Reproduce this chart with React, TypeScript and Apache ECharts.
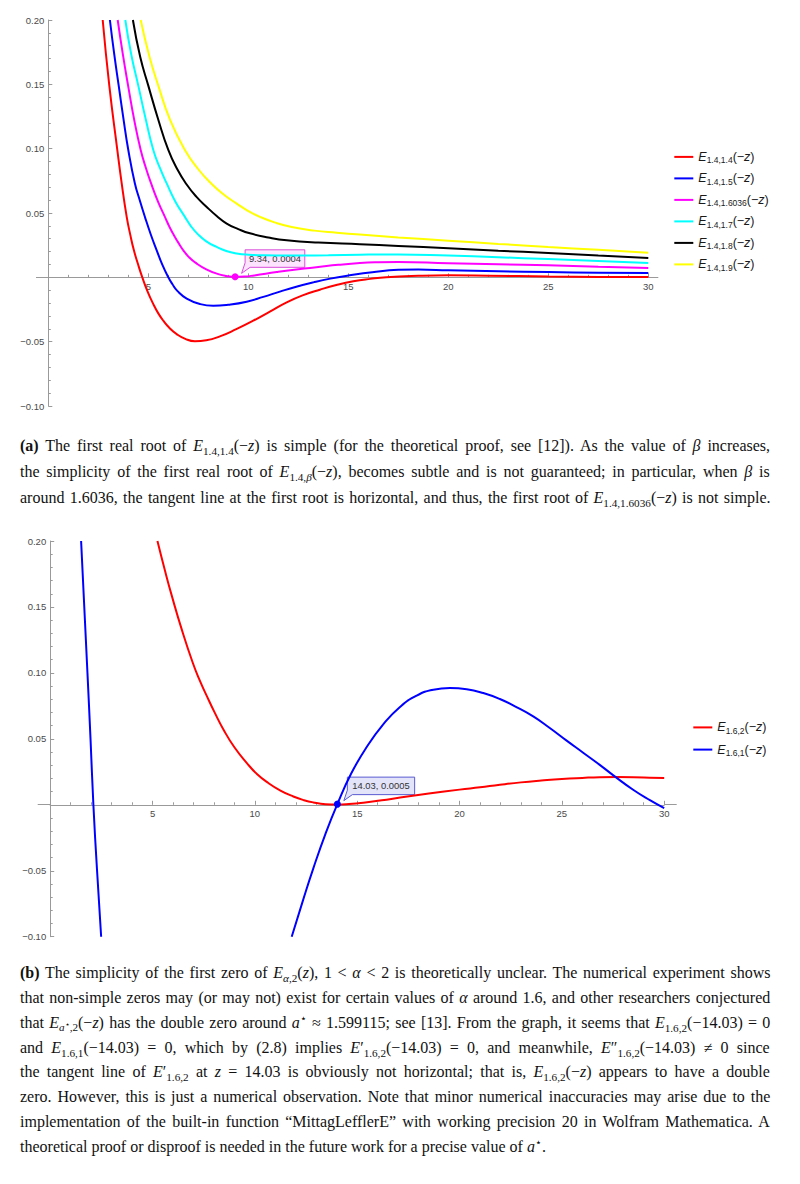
import React, { useEffect, useLayoutEffect, useRef } from "react";
import * as echarts from "echarts";

// ---------- Panel (a): E_{1.4,beta}(-z) ----------
const betaLabels = ["1.4", "1.5", "1.6036", "1.7", "1.8", "1.9"];
const colorsA = ["#ff0000", "#0000ff", "#ff00ff", "#00ffff", "#000000", "#ffff00"];

const redA = [
  [2.72, 0.2], [3.05, 0.149], [3.45, 0.099], [3.67, 0.073], [3.92, 0.047], [4.1, 0.033],
  [4.28, 0.021], [4.48, 0.0105], [4.7, 0], [4.95, -0.0105], [5.25, -0.0208], [5.5, -0.028],
  [5.75, -0.0337], [6.05, -0.0392], [6.42, -0.0441], [6.85, -0.0478], [7.33, -0.0496],
  [7.9, -0.0489], [8.58, -0.0459], [9.4, -0.0403], [10.25, -0.0337], [11.1, -0.0264],
  [11.92, -0.0194], [12.75, -0.0138], [13.58, -0.0096], [14.4, -0.006], [15.25, -0.0031],
  [16.1, -0.0012], [16.9, 0.0001], [18.5, 0.0012], [20, 0.0016], [22, 0.0013], [25, 0.0006],
  [27.5, 0.0003], [30, 0.0002],
];
const blueA = [
  [3.08, 0.2], [3.3, 0.173], [3.52, 0.149], [3.76, 0.123], [4.0, 0.099], [4.33, 0.073],
  [4.58, 0.0595], [4.83, 0.047], [5.12, 0.0335], [5.42, 0.021], [5.7, 0.0098], [6.0, 0],
  [6.2, -0.0052], [6.45, -0.0105], [6.92, -0.0165], [7.6, -0.0208], [8.25, -0.0221],
  [9.0, -0.0213], [9.92, -0.0189], [10.75, -0.0152], [11.58, -0.0111], [12.4, -0.0073],
  [13.25, -0.0039], [14.1, -0.001], [15.0, 0.0014], [16.2, 0.004], [17.5, 0.0058],
  [18.5, 0.006], [20, 0.0055], [22.5, 0.0047], [25, 0.0041], [27.5, 0.0036], [30, 0.0033],
];
const magentaA = [
  [3.47, 0.2], [3.72, 0.174], [3.99, 0.149], [4.3, 0.122], [4.62, 0.099], [4.88, 0.085],
  [5.14, 0.073], [5.48, 0.059], [5.83, 0.047], [6.08, 0.0385], [6.33, 0.0314], [6.55, 0.0257],
  [6.75, 0.021], [7.05, 0.0154], [7.42, 0.0107], [7.9, 0.0062], [8.42, 0.0029], [8.9, 0.0011],
  [9.34, 0.0004], [9.8, 0.0006], [10.3, 0.0015], [11.42, 0.0041], [12.5, 0.0063], [13.5, 0.008],
  [14.5, 0.0097], [15.58, 0.0111], [16.5, 0.0117], [17.5, 0.0119], [20, 0.0109], [22.5, 0.0101],
  [25, 0.0093], [27.5, 0.0082], [30, 0.0072],
];
const cyanA = [
  [3.85, 0.2], [4.15, 0.173], [4.5, 0.149], [4.87, 0.123], [5.25, 0.099], [5.58, 0.085],
  [5.92, 0.073], [6.35, 0.059], [6.83, 0.047], [7.12, 0.04], [7.45, 0.034], [7.9, 0.028],
  [8.42, 0.0236], [8.9, 0.0205], [9.42, 0.0186], [10.0, 0.0176], [10.8, 0.0171], [12, 0.0169],
  [14, 0.0172], [15.58, 0.0176], [17.5, 0.0178], [20, 0.0169], [22.5, 0.0156], [25, 0.0142],
  [27.5, 0.0127], [30, 0.0111],
];
const blackA = [
  [4.23, 0.2], [4.6, 0.171], [5.0, 0.149], [5.5, 0.1225], [6.0, 0.099], [6.45, 0.084],
  [6.9, 0.0725], [7.4, 0.0627], [7.92, 0.0547], [8.42, 0.0477], [8.92, 0.0418], [9.5, 0.0375],
  [10.08, 0.0342], [11, 0.031], [11.92, 0.0288], [13.5, 0.027], [15.58, 0.0257], [17.5, 0.0244],
  [20, 0.0226], [22.5, 0.0207], [25, 0.0189], [27.5, 0.0169], [30, 0.015],
];
const yellowA = [
  [4.62, 0.2], [5.05, 0.172], [5.5, 0.149], [6.1, 0.122], [6.83, 0.099], [7.5, 0.084],
  [8.17, 0.0725], [8.8, 0.064], [9.42, 0.0573], [10.0, 0.0515], [10.58, 0.047], [11.35, 0.0425],
  [12.17, 0.0391], [13.3, 0.0363], [14.42, 0.0347], [15.58, 0.0332], [17.5, 0.031], [20, 0.0285],
  [22.5, 0.026], [25, 0.0236], [27.5, 0.0214], [30, 0.0192],
];
const seriesA = [redA, blueA, magentaA, cyanA, blackA, yellowA];
const calloutA = [9.34, 0.0004];
const calloutAText = "9.34, 0.0004";

// ---------- Panel (b): E_{1.6,2}(-z), E_{1.6,1}(-z) ----------
const labelsB = ["1.6,2", "1.6,1"];
const colorsB = ["#ff0000", "#0000ff"];
const redB = [
  [5.24, 0.2], [5.6, 0.178], [5.95, 0.158], [6.43, 0.1328], [6.97, 0.1075], [7.3, 0.0945],
  [7.66, 0.0822], [8.05, 0.0695], [8.47, 0.0569], [9.0, 0.0436], [9.61, 0.0316], [10.1, 0.0234],
  [10.66, 0.0165], [11.25, 0.0108], [11.88, 0.0063], [12.4, 0.0035], [12.86, 0.0018],
  [13.45, 0.0005], [14.03, 0.0002], [14.6, 0.0006], [15.3, 0.0016], [16.2, 0.0034], [17.1, 0.0055],
  [18.5, 0.0085], [20, 0.0115], [21, 0.0133], [21.97, 0.0152], [23, 0.017], [24, 0.0184],
  [25, 0.0196], [26, 0.0204], [26.85, 0.0209], [27.7, 0.021], [28.5, 0.0209], [29.3, 0.0206],
  [30, 0.0203],
];
const blueB = [
  [1.51, 0.2], [1.665, 0.15], [1.82, 0.1], [1.97, 0.05], [2.11, 0], [2.29, -0.05], [2.49, -0.1],
  [7, null],
  [11.8, -0.1], [12.34, -0.073], [12.86, -0.048], [13.45, -0.022], [14.03, 0.0005], [14.7, 0.0235],
  [15.45, 0.0435], [16.3, 0.0615], [17.09, 0.0742], [17.9, 0.0828], [18.72, 0.0873], [19.53, 0.0885],
  [20.35, 0.0876], [21.16, 0.0847], [21.97, 0.0802], [22.78, 0.0741], [23.6, 0.067], [24.41, 0.0582],
  [25.2, 0.049], [26.04, 0.0395], [26.85, 0.0303], [27.5, 0.0225], [28.5, 0.0112], [29.3, 0.0035],
  [30, -0.0025],
];
const seriesB = [redB, blueB];
const calloutB = [14.03, 0.0005];
const calloutBText = "14.03, 0.0005";

// ---------- Axes ----------
const xMin = 0, xMax = 30, xInterval = 5;
const yMin = -0.1, yMax = 0.2, yInterval = 0.05;

const sans = "'Liberation Sans', Arial, sans-serif";
const axisColor = "#9a9a9a";
const labelColor = "#4a4a4a";

function xAxisFor(gridIndex: number) {
  return {
    type: "value", gridIndex, min: xMin, max: xMax, interval: xInterval, position: "bottom", offset: 0,
    axisLine: { show: true, onZero: false, lineStyle: { color: axisColor, width: 1 } },
    axisTick: { show: true, inside: true, length: 4, lineStyle: { color: axisColor } },
    minorTick: { show: true, splitNumber: 5, length: 2.5, lineStyle: { color: axisColor } },
    axisLabel: {
      show: true, margin: 4, color: labelColor, fontSize: 9.5, fontFamily: sans,
      formatter: (v: number) => (Math.abs(v) < 1e-9 ? "" : String(v)),
    },
    splitLine: { show: false },
    minorSplitLine: { show: false },
  };
}

function yAxisFor(gridIndex: number) {
  return {
    type: "value", gridIndex, min: yMin, max: yMax, interval: yInterval, position: "left", offset: 0,
    axisLine: { show: true, onZero: false, lineStyle: { color: axisColor, width: 1 } },
    axisTick: { show: true, inside: true, length: 4, lineStyle: { color: axisColor } },
    minorTick: { show: true, splitNumber: 5, length: 2.5, lineStyle: { color: axisColor } },
    axisLabel: {
      margin: 4, color: labelColor, fontSize: 9.5, fontFamily: sans,
      formatter: (v: number) => (Math.abs(v) < 1e-9 ? "" : (v < 0 ? "\u2212" : "") + Math.abs(v).toFixed(2)),
    },
    splitLine: { show: false },
    minorSplitLine: { show: false },
  };
}

const richLegend = {
  e: { fontFamily: sans, fontStyle: "italic", fontSize: 12.5, lineHeight: 16, color: "#1a1a1a" },
  s: { fontFamily: sans, fontSize: 8.5, lineHeight: 8, verticalAlign: "bottom", color: "#1a1a1a" },
  p: { fontFamily: sans, fontSize: 12.5, lineHeight: 16, color: "#1a1a1a" },
  z: { fontFamily: sans, fontStyle: "italic", fontSize: 12.5, lineHeight: 16, color: "#1a1a1a" },
};

const namesA = betaLabels.map((b) => `E_{1.4,${b}}(\u2212z)`);
const namesB = labelsB.map((b) => `E_{${b}}(\u2212z)`);
const legendRich: Record<string, string> = {};
betaLabels.forEach((b, i) => (legendRich[namesA[i]] = `{e|E}{s|1.4,${b}}{p|(\u2212}{z|z}{p|)}`));
labelsB.forEach((b, i) => (legendRich[namesB[i]] = `{e|E}{s|${b}}{p|(\u2212}{z|z}{p|)}`));

function buildOption() {
  const sA = seriesA.map((d, i) => ({
    type: "line", name: namesA[i], xAxisIndex: 0, yAxisIndex: 0, data: d,
    smooth: true, symbol: "none", showSymbol: false, clip: true, silent: true,
    color: colorsA[i], itemStyle: { color: colorsA[i] },
    lineStyle: { width: 2, color: colorsA[i] },
    markPoint: i === 2 ? {
      symbol: "circle", symbolSize: 7, silent: true, label: { show: false },
      itemStyle: { color: colorsA[i] }, data: [{ coord: calloutA }],
    } : undefined,
  }));
  const sB = seriesB.map((d, i) => ({
    type: "line", name: namesB[i], xAxisIndex: 1, yAxisIndex: 1, data: d,
    smooth: true, symbol: "none", showSymbol: false, clip: true, silent: true, connectNulls: false,
    color: colorsB[i], itemStyle: { color: colorsB[i] },
    lineStyle: { width: 2, color: colorsB[i] },
    markPoint: i === 1 ? {
      symbol: "circle", symbolSize: 7, silent: true, label: { show: false },
      itemStyle: { color: colorsB[i] }, data: [{ coord: calloutB }],
    } : undefined,
  }));
  return {
    animation: false,
    backgroundColor: "transparent",
    grid: [
      { left: 48.3, top: 20, width: 600, height: 386, containLabel: false, outerBoundsMode: "none" },
      { left: 50.2, top: 541, width: 614, height: 395.7, containLabel: false, outerBoundsMode: "none" },
    ],
    xAxis: [xAxisFor(0), xAxisFor(1)],
    yAxis: [yAxisFor(0), yAxisFor(1)],
    legend: [
      {
        orient: "vertical", left: 669.3, top: 145.4, itemWidth: 19, itemHeight: 2, itemGap: 7.0,
        icon: "rect", selectedMode: false, data: namesA,
        formatter: (n: string) => legendRich[n],
        textStyle: { fontFamily: sans, fontSize: 12.5, color: "#1a1a1a", rich: richLegend },
      },
      {
        orient: "vertical", left: 688.3, top: 715.9, itemWidth: 19, itemHeight: 2, itemGap: 7.7,
        icon: "rect", selectedMode: false, data: namesB,
        formatter: (n: string) => legendRich[n],
        textStyle: { fontFamily: sans, fontSize: 12.5, color: "#1a1a1a", rich: richLegend },
      },
    ],
    series: [...sA, ...sB],
  };
}

function bubble(p: number[], text: string, w: number, fill: string, stroke: string) {
  const x0 = 10, top = -27, bot = -9.5;
  return {
    type: "group", x: p[0], y: p[1], z: 100, silent: true,
    children: [
      {
        type: "polygon",
        shape: { points: [[x0, top], [x0 + w, top], [x0 + w, bot], [x0 + 5, bot], [x0 - 3.5, -3.5], [x0, bot - 4.5]] },
        style: { fill, stroke, lineWidth: 1 },
      },
      {
        type: "text", x: x0 + w / 2, y: (top + bot) / 2,
        style: {
          text, fill: "#333333", fontFamily: sans, fontSize: 9.4,
          align: "center", verticalAlign: "middle", textAlign: "center", textVerticalAlign: "middle",
        },
      },
    ],
  };
}

// crisp 1px line position, same rule as the axis line
function crisp(p: number) {
  const d = Math.round(p * 2);
  return (d + 1) % 2 === 0 ? d / 2 : (d - 1) / 2;
}

// Mathematica draws the horizontal axis a little beyond the plotted range
function axisExtension(z0: number[], z30: number[], padL: number, padR: number) {
  const y = crisp(z0[1]);
  const style = { stroke: axisColor, lineWidth: 1 };
  return [
    { type: "line", silent: true, z: 1, shape: { x1: z0[0] - padL, y1: y, x2: z0[0], y2: y }, style },
    { type: "line", silent: true, z: 1, shape: { x1: z30[0], y1: y, x2: z30[0] + padR, y2: y }, style },
  ];
}

// ---------- Caption helpers ----------
const Sb = ({ children }: { children: React.ReactNode }) => (
  <span style={{ fontSize: "0.7em", verticalAlign: "-0.32em", lineHeight: 0 }}>{children}</span>
);
const Sp = ({ children }: { children: React.ReactNode }) => (
  <span style={{ fontSize: "0.7em", verticalAlign: "0.5em", lineHeight: 0 }}>{children}</span>
);
const E = ({ s, p }: { s: React.ReactNode; p?: string }) => (
  <>
    <i>E</i>
    {p ? <span>{p}</span> : null}
    <Sb>{s}</Sb>
  </>
);

const capA: React.ReactNode[] = [
  <><b>(a)</b> The first real root of <E s="1.4,1.4" />(−<i>z</i>) is simple (for the theoretical proof, see [12]). As the value of <i>β</i> increases,</>,
  <>the simplicity of the first real root of <E s={<>1.4,<i>β</i></>} />(−<i>z</i>), becomes subtle and is not guaranteed; in particular, when <i>β</i> is</>,
  <>around 1.6036, the tangent line at the first root is horizontal, and thus, the first root of <E s="1.4,1.6036" />(−<i>z</i>) is not simple.</>,
];
const capAJustify = [true, true, true];
const capATops = [446, 472, 498];

const capB: React.ReactNode[] = [
  <><b>(b)</b> The simplicity of the first zero of <E s={<><i>α</i>,2</>} />(<i>z</i>), 1 &lt; <i>α</i> &lt; 2 is theoretically unclear. The numerical experiment shows</>,
  <>that non-simple zeros may (or may not) exist for certain values of <i>α</i> around 1.6, and other researchers conjectured</>,
  <>that <E s={<><i>a</i><Sp>⋆</Sp>,2</>} />(−<i>z</i>) has the double zero around <i>a</i><Sp>⋆</Sp> ≈ 1.599115; see [13]. From the graph, it seems that <E s="1.6,2" />(−14.03) = 0</>,
  <>and <E s="1.6,1" />(−14.03) = 0, which by (2.8) implies <E p="′" s="1.6,2" />(−14.03) = 0, and meanwhile, <E p="″" s="1.6,2" />(−14.03) ≠ 0 since</>,
  <>the tangent line of <E p="′" s="1.6,2" /> at <i>z</i> = 14.03 is obviously not horizontal; that is, <E s="1.6,2" />(−<i>z</i>) appears to have a double</>,
  <>zero. However, this is just a numerical observation. Note that minor numerical inaccuracies may arise due to the</>,
  <>implementation of the built-in function “MittagLefflerE” with working precision 20 in Wolfram Mathematica. A</>,
  <>theoretical proof or disproof is needed in the future work for a precise value of <i>a</i><Sp>⋆</Sp>.</>,
];
const capBJustify = [true, true, true, true, true, true, true, false];
const capBTops = [973, 997.9, 1022.7, 1047.6, 1072.4, 1097.3, 1122.2, 1147];

const TEXT_LEFT = 20;
const TEXT_WIDTH = 750;

function fitLines(els: (HTMLSpanElement | null)[], justify: boolean[]) {
  els.forEach((e) => {
    if (e) { e.style.transform = "none"; e.style.wordSpacing = "0px"; }
  });
  const ws = els.map((e) => (e ? e.offsetWidth : 0));
  let s = 1;
  els.forEach((e, i) => { if (e && justify[i] && ws[i] > 0) s = Math.min(s, TEXT_WIDTH / ws[i]); });
  els.forEach((e, i) => {
    if (!e) return;
    e.style.transformOrigin = "0 0";
    e.style.transform = `scaleX(${s})`;
    if (justify[i]) {
      const n = ((e.textContent || "").match(/ /g) || []).length;
      const extra = TEXT_WIDTH / s - ws[i];
      if (n > 0) e.style.wordSpacing = `${extra / n}px`;
    }
  });
}

export default function App() {
  const chartRef = useRef<HTMLDivElement>(null);
  const linesA = useRef<(HTMLSpanElement | null)[]>([]);
  const linesB = useRef<(HTMLSpanElement | null)[]>([]);

  useEffect(() => {
    const chart = echarts.init(chartRef.current as HTMLDivElement, null, { renderer: "svg" });
    chart.setOption(buildOption() as any);
    const px = (f: any, v: number) => chart.convertToPixel(f, v) as unknown as number;
    // move the horizontal axes up so they sit on y = 0 (axes cross at origin)
    const offXA = px({ yAxisIndex: 0 }, 0) - px({ yAxisIndex: 0 }, yMin);
    const offXB = px({ yAxisIndex: 1 }, 0) - px({ yAxisIndex: 1 }, yMin);
    const pa = chart.convertToPixel({ seriesIndex: 2 } as any, calloutA) as number[];
    const pb = chart.convertToPixel({ seriesIndex: 7 } as any, calloutB) as number[];
    const a0 = chart.convertToPixel({ seriesIndex: 0 } as any, [xMin, 0]) as number[];
    const a30 = chart.convertToPixel({ seriesIndex: 0 } as any, [xMax, 0]) as number[];
    const b0 = chart.convertToPixel({ seriesIndex: 6 } as any, [xMin, 0]) as number[];
    const b30 = chart.convertToPixel({ seriesIndex: 6 } as any, [xMax, 0]) as number[];
    chart.setOption({
      xAxis: [{ offset: offXA }, { offset: offXB }],
      graphic: [
        ...axisExtension(a0, a30, 12.3, 10),
        ...axisExtension(b0, b30, 12.5, 12.5),
        bubble(pa, calloutAText, 59.7, "#fde3fd", "#d94fd9"),
        bubble(pb, calloutBText, 67.3, "#e3e3fa", "#5a5ad2"),
      ],
    } as any);
    return () => chart.dispose();
  }, []);

  useLayoutEffect(() => {
    fitLines(linesA.current, capAJustify);
    fitLines(linesB.current, capBJustify);
  }, []);

  const lineStyle: React.CSSProperties = {
    position: "absolute", left: TEXT_LEFT, display: "inline-block", whiteSpace: "nowrap",
    fontFamily: "'Liberation Serif', 'Times New Roman', serif", fontSize: 16, lineHeight: "20px",
    color: "#111", zIndex: 2,
  };

  return (
    <div style={{ position: "absolute", left: 0, top: 0, width: 800, height: 1184, background: "#fff", overflow: "hidden" }}>
      <div ref={chartRef} style={{ position: "absolute", left: 0, top: 0, width: 800, height: 1184 }} />
      {capA.map((c, i) => (
        <span key={"a" + i} ref={(el) => { linesA.current[i] = el; }} style={{ ...lineStyle, top: capATops[i] - 10 }}>{c}</span>
      ))}
      {capB.map((c, i) => (
        <span key={"b" + i} ref={(el) => { linesB.current[i] = el; }} style={{ ...lineStyle, top: capBTops[i] - 10 }}>{c}</span>
      ))}
    </div>
  );
}
